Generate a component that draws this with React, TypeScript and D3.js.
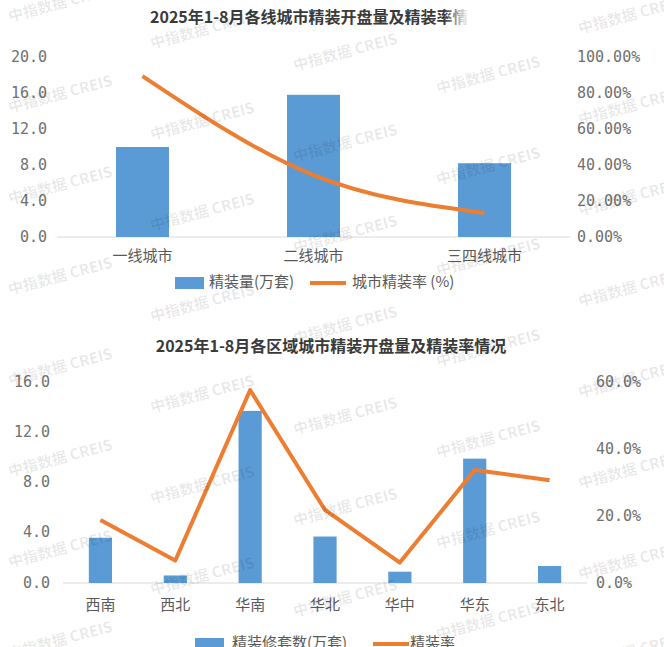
import React from 'react';
import * as d3 from 'd3';

// chart 1: city tiers
const tierCities = ['一线城市', '二线城市', '三四线城市'];
const tierVolume = [10.0, 15.8, 8.2];
const tierRate = [89.4, 34.4, 13.3];
const tierLeftTicks = [0, 4, 8, 12, 16, 20];
const tierRightTicks = [0, 20, 40, 60, 80, 100];
const tierTitle = '2025年1-8月各线城市精装开盘量及精装率情况';
const tierLegend = ['精装量(万套)', '城市精装率 (%)'];

// chart 2: regions
const regions = ['西南', '西北', '华南', '华北', '华中', '华东', '东北'];
const regionVolume = [3.6, 0.6, 13.7, 3.7, 0.9, 9.9, 1.35];
const regionRate = [18.8, 6.7, 57.6, 21.8, 6.1, 33.7, 30.7];
const regionLeftTicks = [0, 4, 8, 12, 16];
const regionRightTicks = [0, 20, 40, 60];
const regionTitle = '2025年1-8月各区域城市精装开盘量及精装率情况';
const regionLegend = ['精装修套数(万套)', '精装率'];

const watermark = '中指数据 CREIS';

const BLUE = '#5B9BD5';
const ORANGE = '#ED7D31';
const CJK = '"Noto Sans CJK SC", "Noto Sans", sans-serif';
const NUM = '"DejaVu Sans Mono", monospace';

interface ComboProps {
  cats: string[];
  bars: number[];
  rates: number[];
  leftTicks: number[];
  rightTicks: number[];
  xRange: [number, number];
  yBase: number;
  yTop: number;
  leftX: number;
  rightX: number;
  rightFmt: (v: number) => string;
  catY: number;
  smooth: boolean;
  title: string;
  titleX: number;
  titleY: number;
  titleAnchor: 'start' | 'middle';
  legend: string[];
  legendY: number;
  legendX: [number, number, number, number]; // rect x, text1 x, line x, text2 x
}

const Combo: React.FC<ComboProps> = (p) => {
  const x = d3.scaleBand<string>().domain(p.cats).range(p.xRange).paddingInner(0.69).paddingOuter(0.345);
  const xc = (c: string) => (x(c) as number) + x.bandwidth() / 2;
  const y = d3.scaleLinear().domain([0, d3.max(p.leftTicks) as number]).range([p.yBase, p.yTop]);
  const yr = d3.scaleLinear().domain([0, d3.max(p.rightTicks) as number]).range([p.yBase, p.yTop]);

  const line = d3
    .line<number>()
    .x((_, i) => xc(p.cats[i]))
    .y((d) => yr(d))
    .curve(p.smooth ? d3.curveMonotoneX : d3.curveLinear);

  const [rx, t1x, lx, t2x] = p.legendX;

  return (
    <g>
      <text x={p.titleX} y={p.titleY} textAnchor={p.titleAnchor} dominantBaseline="middle"
        fontFamily={CJK} fontWeight={700} fontSize={16} fill="#3a3a3a">{p.title}</text>

      {p.leftTicks.map((t) => (
        <text key={'l' + t} x={p.leftX} y={y(t)} textAnchor="end" dominantBaseline="middle"
          fontFamily={NUM} fontSize={15} fill="#707070">{t.toFixed(1)}</text>
      ))}
      {p.rightTicks.map((t) => (
        <text key={'r' + t} x={p.rightX} y={yr(t)} textAnchor="start" dominantBaseline="middle"
          fontFamily={NUM} fontSize={15} fill="#707070">{p.rightFmt(t)}</text>
      ))}

      <line x1={p.xRange[0]} x2={p.xRange[1]} y1={p.yBase} y2={p.yBase} stroke="#d9d9d9" strokeWidth={1} />

      {p.cats.map((c, i) => (
        <rect key={c} x={x(c)} y={y(p.bars[i])} width={x.bandwidth()} height={p.yBase - y(p.bars[i])} fill={BLUE} />
      ))}
      <path d={line(p.rates) || ''} fill="none" stroke={ORANGE} strokeWidth={4} strokeLinejoin="round" />

      {p.cats.map((c) => (
        <text key={'c' + c} x={xc(c)} y={p.catY} textAnchor="middle" dominantBaseline="middle"
          fontFamily={CJK} fontSize={15} fill="#595959">{c}</text>
      ))}

      <rect x={rx} y={p.legendY - 6} width={29} height={12} fill={BLUE} />
      <text x={t1x} y={p.legendY} dominantBaseline="middle" fontFamily={CJK} fontSize={15} fill="#595959">{p.legend[0]}</text>
      <line x1={lx} x2={lx + 36} y1={p.legendY} y2={p.legendY} stroke={ORANGE} strokeWidth={4} />
      <text x={t2x} y={p.legendY} dominantBaseline="middle" fontFamily={CJK} fontSize={15} fill="#595959">{p.legend[1]}</text>
    </g>
  );
};

const wmCols = [10, 152, 295, 438, 580];
const wmStarts = [8, 35, 57, 80, 20];

export default function App() {
  const marks: { x: number; y: number }[] = [];
  wmCols.forEach((cx, i) => {
    for (let yy = wmStarts[i]; yy < 680; yy += 91) marks.push({ x: cx, y: yy + 14 });
  });

  return (
    <div style={{ position: 'absolute', left: 0, top: 0 }}>
      <svg width={664} height={647} style={{ display: 'block', background: '#fff' }}>
        <defs>
          <linearGradient id="fade" x1="0" x2="1" y1="0" y2="0">
            <stop offset="0" stopColor="#fff" stopOpacity={0} />
            <stop offset="0.25" stopColor="#fff" stopOpacity={1} />
            <stop offset="1" stopColor="#fff" stopOpacity={1} />
          </linearGradient>
        </defs>
        <Combo
          cats={tierCities} bars={tierVolume} rates={tierRate}
          leftTicks={tierLeftTicks} rightTicks={tierRightTicks}
          xRange={[57, 570]} yBase={237} yTop={57} leftX={47} rightX={577}
          rightFmt={(v) => v.toFixed(2) + '%'} catY={257} smooth
          title={tierTitle} titleX={150} titleY={19} titleAnchor="start"
          legend={tierLegend} legendY={283} legendX={[175, 209, 310, 352]}
        />
        <rect x={444} y={6} width={100} height={28} fill="url(#fade)" />
        <Combo
          cats={regions} bars={regionVolume} rates={regionRate}
          leftTicks={regionLeftTicks} rightTicks={regionRightTicks}
          xRange={[63, 587]} yBase={583} yTop={382} leftX={50} rightX={596}
          rightFmt={(v) => v.toFixed(1) + '%'} catY={606} smooth={false}
          title={regionTitle} titleX={331} titleY={348} titleAnchor="middle"
          legend={regionLegend} legendY={644} legendX={[195, 232, 373, 410]}
        />
        {marks.map((m, i) => (
          <text key={i} x={m.x} y={m.y} transform={`rotate(-15 ${m.x} ${m.y})`}
            fontFamily={CJK} fontWeight={700} fontSize={15} fill="#000" fillOpacity={0.09}>{watermark}</text>
        ))}
      </svg>
    </div>
  );
}
